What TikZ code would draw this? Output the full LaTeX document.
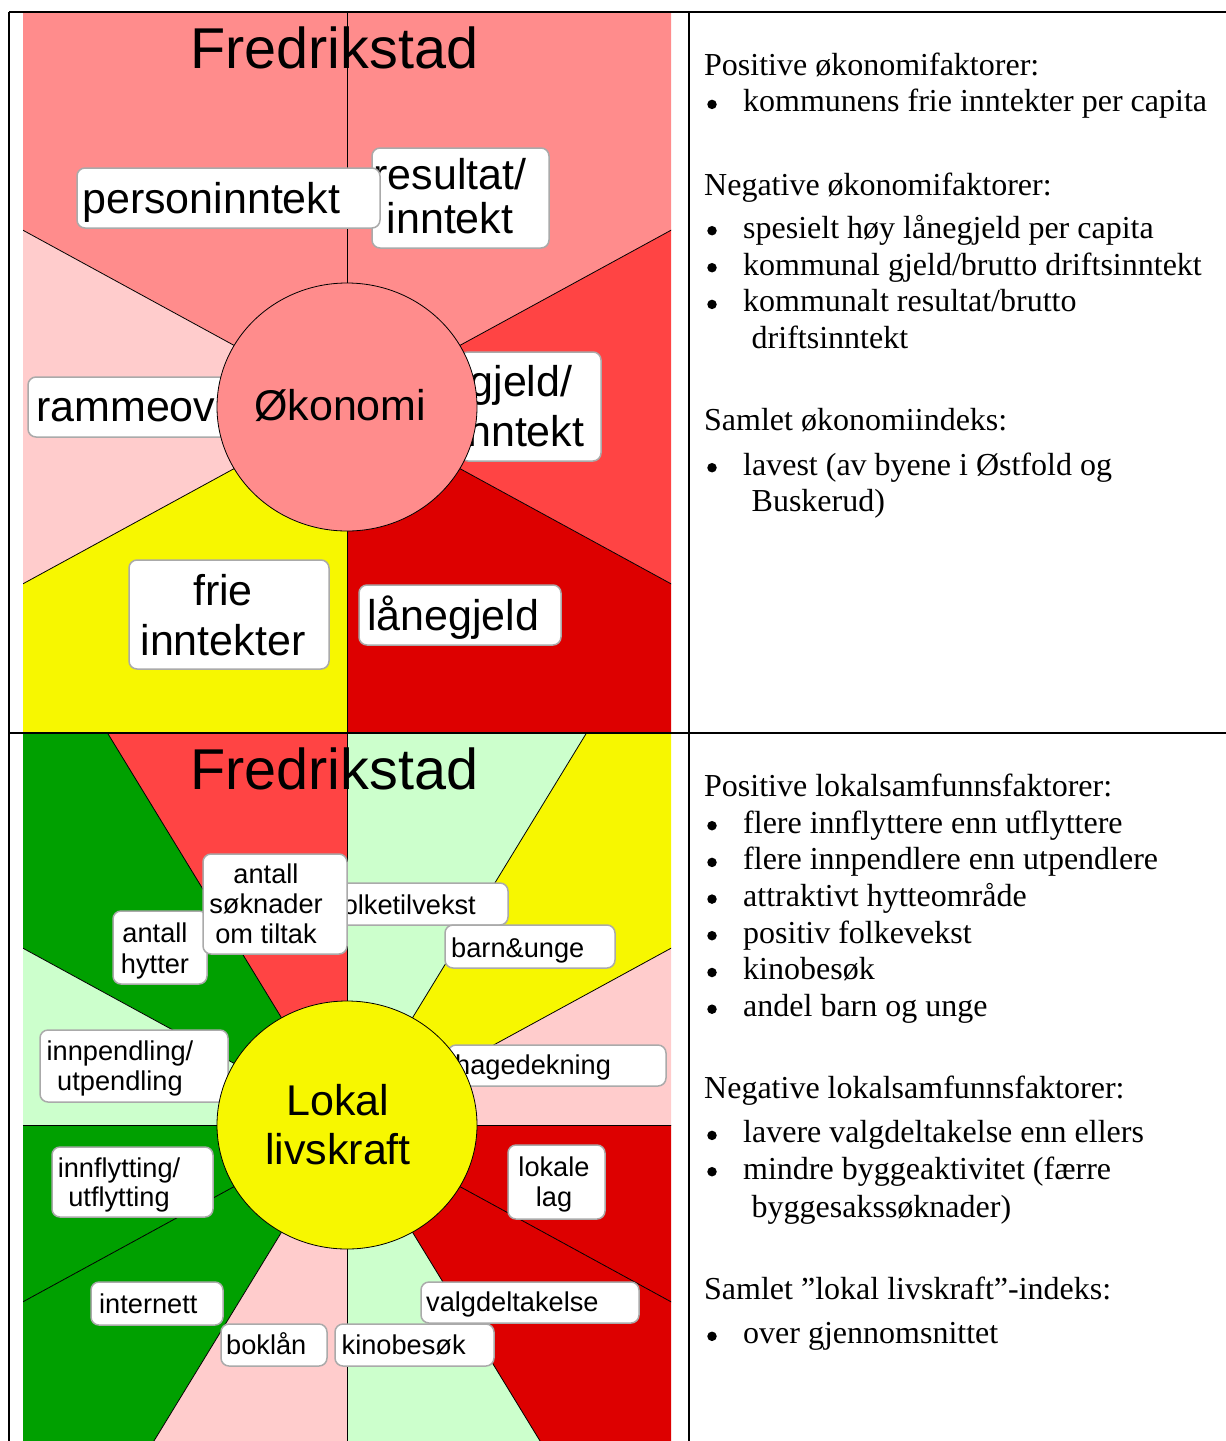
\documentclass[tikz,border=0pt]{standalone}
\usepackage{fontspec}
\setmainfont{Liberation Serif}
\newfontfamily\arialf{Liberation Sans}
\usetikzlibrary{shapes.geometric,calc}
\definecolor{cSalmon}{RGB}{255,140,140}
\definecolor{cRed}{RGB}{255,68,68}
\definecolor{cDred}{RGB}{221,0,0}
\definecolor{cYel}{RGB}{247,247,0}
\definecolor{cLpink}{RGB}{255,204,204}
\definecolor{cGreen}{RGB}{0,160,0}
\definecolor{cLgreen}{RGB}{204,255,204}
\definecolor{cBoxline}{RGB}{170,170,170}
\tikzset{
  ray/.style={draw=black, line width=0.8pt},
  lbox/.style={draw=cBoxline, line width=1.5pt, fill=white, rounded corners=8pt, inner sep=0pt},
  bigt/.style={font=\arialf\fontsize{43}{47}\selectfont, inner sep=0pt, align=center},
  smallt/.style={font=\arialf\fontsize{27.2}{30}\selectfont, inner sep=0pt, align=center},
  titlet/.style={font=\arialf\fontsize{57.6}{62}\selectfont, inner sep=0pt, anchor=base west},
  hub/.style={ellipse, draw=black, line width=0.8pt, minimum width=260pt, minimum height=248pt, inner sep=0pt},
  rt/.style={anchor=base west, inner sep=0pt, font=\fontsize{32}{37}\selectfont},
  bul/.style={circle, fill=black, minimum size=9.5pt, inner sep=0pt, yshift=7.3pt},
  tline/.style={draw=black, line width=2pt}
}
\begin{document}
\begin{tikzpicture}[x=1pt,y=-1pt]
\useasboundingbox (0,0) rectangle (1226,1441);

% ================= TOP PANEL =================
\begin{scope}
\clip (23,12) rectangle (671,733);
\foreach \a/\b/\c in {30/90/cSalmon,90/150/cSalmon,150/210/cLpink,210/270/cYel,270/330/cDred,330/390/cRed}
  \fill[\c] (347,407) -- ({347+2000*cos(\a)},{407-1890*sin(\a)}) -- ({347+2000*cos(\b)},{407-1890*sin(\b)}) -- cycle;
\foreach \a in {30,90,...,330}
  \draw[ray] (347,407) -- ({347+2000*cos(\a)},{407-1890*sin(\a)});
\end{scope}

\node[titlet] (title1) at (190,68) {Fredrikstad};

\node[lbox, minimum width=177pt, minimum height=100pt] (resbox) at (460.5,198) {};
\node[bigt, anchor=base, font=\arialf\fontsize{43}{44.5}\selectfont] (restxt) at (450,233.6) {resultat/\\inntekt};
\node[lbox, minimum width=303pt, minimum height=60pt] (persbox) at (228.5,198) {};
\node[bigt, anchor=base west] (perstxt) at (82,213) {personinntekt};

\node[lbox, minimum width=141pt, minimum height=109pt] (gjbox) at (530.5,406.5) {};
\node[bigt, anchor=base, font=\arialf\fontsize{43}{50}\selectfont] (gjtxt) at (521,446) {gjeld/\\inntekt};
\node[lbox, minimum width=250pt, minimum height=60pt] (rambox) at (153,407) {};
\node[bigt, anchor=base west] (ramtxt) at (36,421) {rammeov};

\node[lbox, minimum width=200pt, minimum height=109pt] (frbox) at (229,614.5) {};
\node[bigt, anchor=base, font=\arialf\fontsize{43}{49.5}\selectfont] (frtxt) at (223,655) {frie\\inntekter};
\node[lbox, minimum width=202pt, minimum height=60pt] (lanbox) at (460,615) {};
\node[bigt, anchor=base west] (lantxt) at (367,630) {lånegjeld};

\node[hub, fill=cSalmon] (eko) at (347,407) {};
\node[bigt, anchor=base west] (ekotxt) at (254,420) {Økonomi};

% ================= BOTTOM PANEL =================
\begin{scope}
\clip (23,733) rectangle (671,1441);
\foreach \a/\b/\c in {0/30/cLpink,30/60/cYel,60/90/cLgreen,90/120/cRed,120/150/cGreen,150/180/cLgreen,180/210/cGreen,210/240/cGreen,240/270/cLpink,270/300/cLgreen,300/330/cDred,330/360/cDred}
  \fill[\c] (347,1125) -- ({347+2000*cos(\a)},{1125-1890*sin(\a)}) -- ({347+2000*cos(\b)},{1125-1890*sin(\b)}) -- cycle;
\foreach \a in {0,30,...,330}
  \draw[ray] (347,1125) -- ({347+2000*cos(\a)},{1125-1890*sin(\a)});
\end{scope}

\node[titlet] (title2) at (190,789) {Fredrikstad};

\node[lbox, minimum width=94pt, minimum height=73pt] (hytbox) at (160,947.5) {};
\node[smallt, anchor=base, font=\arialf\fontsize{27.2}{31}\selectfont] (hyttxt) at (155,973) {antall\\hytter};

\node[lbox, minimum width=179pt, minimum height=42pt] (folkbox) at (418.5,904) {};
\node[smallt, anchor=base west] (folktxt) at (335,914) {folketilvekst};
\node[lbox, minimum width=144pt, minimum height=100pt] (soekbox) at (275,904) {};
\node[smallt, anchor=base] (soektxt) at (266,943) {antall\\søknader\\om tiltak};

\node[lbox, minimum width=170pt, minimum height=43pt] (barnbox) at (530,946.5) {};
\node[smallt, anchor=base west] (barntxt) at (451,957) {barn\&unge};

\node[lbox, minimum width=188pt, minimum height=72pt] (innpbox) at (134,1066) {};
\node[smallt, anchor=base] (innptxt) at (120,1090) {innpendling/\\utpendling};

\node[lbox, minimum width=218pt, minimum height=41pt] (hagebox) at (557,1065.5) {};
\node[smallt, anchor=base west] (hagetxt) at (455,1074) {hagedekning};

\node[lbox, minimum width=161pt, minimum height=70pt] (innflbox) at (132.5,1182) {};
\node[smallt, anchor=base, font=\arialf\fontsize{27.2}{29}\selectfont] (innfltxt) at (119,1206) {innflytting/\\utflytting};

\node[lbox, minimum width=97pt, minimum height=74pt] (lokbox) at (556.5,1182) {};
\node[smallt, anchor=base] (loktxt) at (554,1206.5) {lokale\\lag};

\node[lbox, minimum width=132pt, minimum height=43pt] (intbox) at (157,1303.5) {};
\node[smallt, anchor=base west] (inttxt) at (99,1313) {internett};

\node[lbox, minimum width=218pt, minimum height=41pt] (valgbox) at (530,1302.5) {};
\node[smallt, anchor=base west] (valgtxt) at (426,1311) {valgdeltakelse};

\node[lbox, minimum width=106pt, minimum height=42pt] (bokbox) at (274,1345) {};
\node[smallt, anchor=base west] (boktxt) at (226,1354.5) {boklån};

\node[lbox, minimum width=159pt, minimum height=42pt] (kinobox) at (414.5,1345) {};
\node[smallt, anchor=base west] (kinotxt) at (341.5,1354.5) {kinobesøk};

\node[hub, fill=cYel] (lok) at (347,1125) {};
\node[bigt, anchor=base, font=\arialf\fontsize{43}{49}\selectfont] (loktitle) at (338,1164) {Lokal\\livskraft};

% ================= RIGHT TEXT (top) =================
\node[rt] (r1) at (704,75) {Positive økonomifaktorer:};
\node[bul] (rb1) at (712,111.7) {};
\node[rt] (r2) at (743,111.7) {kommunens frie inntekter per capita};
\node[rt] (r3) at (704,195) {Negative økonomifaktorer:};
\node[bul] (rb2) at (712,238) {};
\node[rt] (r4) at (743,238) {spesielt høy lånegjeld per capita};
\node[bul] (rb3) at (712,275) {};
\node[rt] (r5) at (743,275) {kommunal gjeld/brutto driftsinntekt};
\node[bul] (rb4) at (712,311.7) {};
\node[rt] (r6) at (743,311.7) {kommunalt resultat/brutto};
\node[rt] (r7) at (751.5,348) {driftsinntekt};
\node[rt] (r8) at (704,430) {Samlet økonomiindeks:};
\node[bul] (rb5) at (712,475) {};
\node[rt] (r9) at (743,475) {lavest (av byene i Østfold og};
\node[rt] (r10) at (751.5,511.7) {Buskerud)};

% ================= RIGHT TEXT (bottom) =================
\node[rt] (s1) at (704,796.4) {Positive lokalsamfunnsfaktorer:};
\node[bul] (sb1) at (712,833) {};
\node[rt] (s2) at (743,833) {flere innflyttere enn utflyttere};
\node[bul] (sb2) at (712,869.7) {};
\node[rt] (s3) at (743,869.7) {flere innpendlere enn utpendlere};
\node[bul] (sb3) at (712,906.4) {};
\node[rt] (s4) at (743,906.4) {attraktivt hytteområde};
\node[bul] (sb4) at (712,943) {};
\node[rt] (s5) at (743,943) {positiv folkevekst};
\node[bul] (sb5) at (712,979.8) {};
\node[rt] (s6) at (743,979.8) {kinobesøk};
\node[bul] (sb6) at (712,1016.5) {};
\node[rt] (s7) at (743,1016.5) {andel barn og unge};
\node[rt] (s8) at (704,1098.7) {Negative lokalsamfunnsfaktorer:};
\node[bul] (sb7) at (712,1142.7) {};
\node[rt] (s9) at (743,1142.7) {lavere valgdeltakelse enn ellers};
\node[bul] (sb8) at (712,1179) {};
\node[rt] (s10) at (743,1179) {mindre byggeaktivitet (færre};
\node[rt] (s11) at (751.5,1217) {byggesakssøknader)};
\node[rt] (s12) at (704,1299.6) {Samlet ”lokal livskraft”-indeks:};
\node[bul] (sb9) at (712,1343.6) {};
\node[rt] (s13) at (743,1343.6) {over gjennomsnittet};

% ================= TABLE LINES =================
\coordinate (tl) at (9,12);
\coordinate (tr) at (1226,12);
\coordinate (ml) at (9,733);
\coordinate (mr) at (1226,733);
\coordinate (bl) at (9,1441);
\coordinate (dt) at (689,12);
\coordinate (db) at (689,1441);
\draw[tline] (tl) -- (tr);
\draw[tline] (ml) -- (mr);
\draw[tline] (tl) -- (bl);
\draw[tline] (dt) -- (db);
\end{tikzpicture}
\end{document}
